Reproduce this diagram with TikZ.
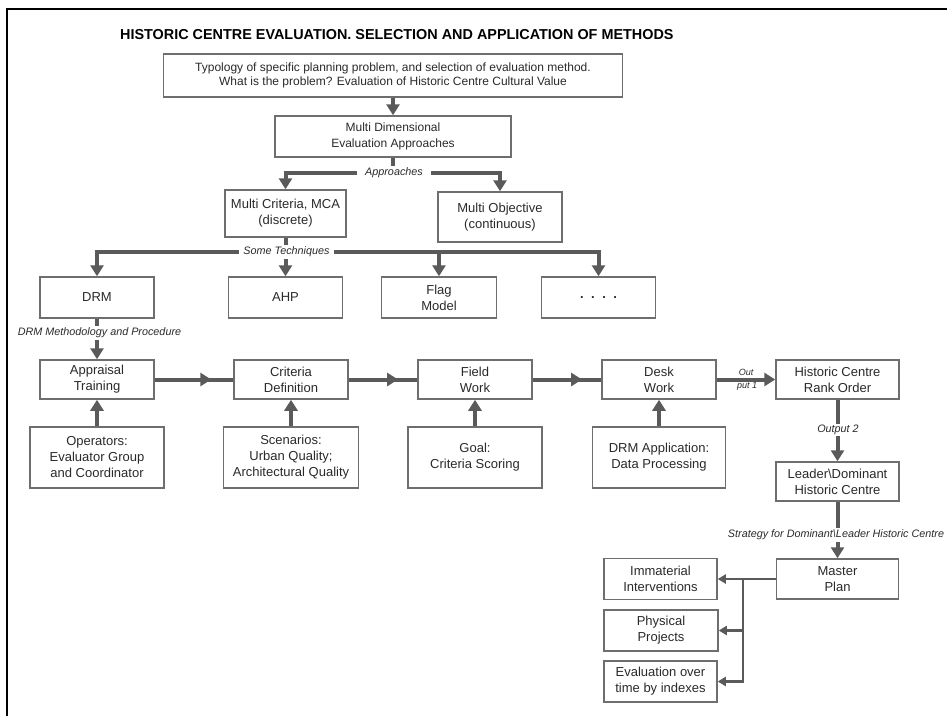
\documentclass[tikz,border=0pt]{standalone}
\usepackage{fontspec}
\setmainfont{Liberation Sans}
\usetikzlibrary{arrows.meta,decorations.markings}
\definecolor{boxline}{HTML}{6E6E6E}
\definecolor{conncol}{HTML}{5A5A5A}
\definecolor{txt}{HTML}{2A2A2A}
\begin{document}
\begin{tikzpicture}[x=1pt,y=-1pt,
 box/.style={draw=boxline, line width=1.5pt, fill=white, inner sep=2pt, align=center, text=txt, font=\fontsize{13}{16}\selectfont},
 conn/.style={draw=conncol, line width=4pt},
 arr/.style={conn, -{Triangle[width=13pt,length=11pt]}},
 lab/.style={fill=white, inner xsep=4pt, inner ysep=1.5pt, text=txt, font=\fontsize{10.8}{12}\selectfont\itshape},
 midarr/.style={conn, postaction={decorate}, decoration={markings, mark=at position 0.72 with {\arrow{Triangle[width=13pt,length=11pt]}}}},
 thinarr/.style={draw=conncol, line width=2.2pt, -{Triangle[width=9pt,length=8pt]}},
 thinline/.style={draw=conncol, line width=2.2pt}
]
\useasboundingbox (0,0) rectangle (947,716);
\fill[white] (0,0) rectangle (947,716);
% frame
\draw[line width=2pt, black] (7,716) -- (7,9) -- (947,9);
% title
\node[anchor=base west, inner sep=0, text=black, font=\bfseries\fontsize{14.4}{18}\selectfont] (title) at (120,39) {HISTORIC CENTRE EVALUATION. SELECTION AND APPLICATION OF METHODS};
% top rows
\node[box, minimum width=459, minimum height=43, font=\fontsize{12}{14}\selectfont] (top) at (393,75.5) {Typology of specific planning problem, and selection of evaluation method.\\What is the problem? Evaluation of Historic Centre Cultural Value};
\node[box, minimum width=236, minimum height=41, font=\fontsize{12}{16}\selectfont] (md) at (393,136.5) {Multi Dimensional\\Evaluation Approaches};
\node[box, minimum width=121, minimum height=47] (mc) at (285.5,213.5) {Multi Criteria, MCA\\(discrete)};
\node[box, minimum width=124, minimum height=50] (mo) at (500,217) {Multi Objective\\(continuous)};
% techniques
\node[box, minimum width=114, minimum height=41] (drm) at (97,297.5) {DRM};
\node[box, minimum width=114, minimum height=41] (ahp) at (285.5,297.5) {AHP};
\node[box, minimum width=115, minimum height=41] (flag) at (439,297.5) {Flag\\Model};
\node[box, minimum width=114, minimum height=41] (dots) at (598.5,297.5) {\bfseries .\hspace{7.5pt}.\hspace{7.5pt}.\hspace{7.5pt}.};
% process row
\node[box, minimum width=114, minimum height=39] (appr) at (97,379.5) {Appraisal\\Training};
\node[box, minimum width=114, minimum height=39] (crit) at (291,379.5) {Criteria\\Definition};
\node[box, minimum width=114, minimum height=39] (field) at (475,379.5) {Field\\Work};
\node[box, minimum width=114, minimum height=39] (desk) at (659,379.5) {Desk\\Work};
\node[box, minimum width=123, minimum height=39] (rank) at (837.5,379.5) {Historic Centre\\Rank Order};
% inputs row
\node[box, minimum width=134, minimum height=61] (oper) at (97,457.5) {Operators:\\Evaluator Group\\and Coordinator};
\node[box, minimum width=135, minimum height=61] (scen) at (291,457.5) {Scenarios:\\Urban Quality;\\Architectural Quality};
\node[box, minimum width=134, minimum height=61] (goal) at (475,457.5) {Goal:\\Criteria Scoring};
\node[box, minimum width=133, minimum height=61] (dapp) at (659,457.5) {DRM Application:\\Data Processing};
% right column
\node[box, minimum width=123, minimum height=39] (lead) at (837.5,481.5) {Leader\textbackslash Dominant\\Historic Centre};
\node[box, minimum width=122, minimum height=40] (mast) at (837.5,579) {Master\\Plan};
\node[box, minimum width=113, minimum height=41] (imm) at (660.5,579) {Immaterial\\Interventions};
\node[box, minimum width=114, minimum height=41] (phys) at (661,630.5) {Physical\\Projects};
\node[box, minimum width=113, minimum height=41] (eval) at (660.5,681.5) {Evaluation over\\time by indexes};
% connectors
\draw[arr] (top) -- (md);
\coordinate (ap) at (393,173);
\draw[conn] (md.south) -- (ap);
\draw[arr] (ap) -| (mc.north);
\draw[arr] (ap) -| (mo.north);
\node[lab, inner xsep=8pt] (aplab) at (394,173) {Approaches};
\coordinate (st) at (285.5,252);
\draw[conn] (mc.south) -- (st);
\draw[arr] (st) -| (drm.north);
\draw[arr] (st) -- (ahp.north);
\draw[arr] (st) -| (flag.north);
\draw[arr] (st) -| (dots.north);
\node[lab] (stlab) at (286.5,252) {Some Techniques};
\draw[arr] (drm) -- (appr);
\node[lab] (drmlab) at (99.5,333) {DRM Methodology and Procedure};
\draw[midarr] (appr) -- (crit);
\draw[midarr] (crit) -- (field);
\draw[midarr] (field) -- (desk);
\draw[arr] (desk) -- (rank);
\node[inner sep=0, text=txt, font=\fontsize{9}{10}\selectfont\itshape] (o1a) at (746,372) {Out};
\node[inner sep=0, text=txt, font=\fontsize{9}{10}\selectfont\itshape] (o1b) at (747,386) {put 1};
\draw[arr] (oper) -- (appr);
\draw[arr] (scen) -- (crit);
\draw[arr] (goal) -- (field);
\draw[arr] (dapp) -- (desk);
\draw[arr] (rank) -- (lead);
\node[lab] (o2lab) at (838,430) {Output 2};
\draw[arr] (lead) -- (mast);
\node[lab] (stratlab) at (836,535) {Strategy for Dominant\textbackslash Leader Historic Centre};
\coordinate (mj) at (743,579);
\draw[thinarr] (mast.west) -- (imm.east);
\draw[thinline] (mj) -- (743,682);
\draw[thinarr] (mj) |- (phys.east);
\draw[thinarr] (mj) |- (eval.east);
\end{tikzpicture}
\end{document}
